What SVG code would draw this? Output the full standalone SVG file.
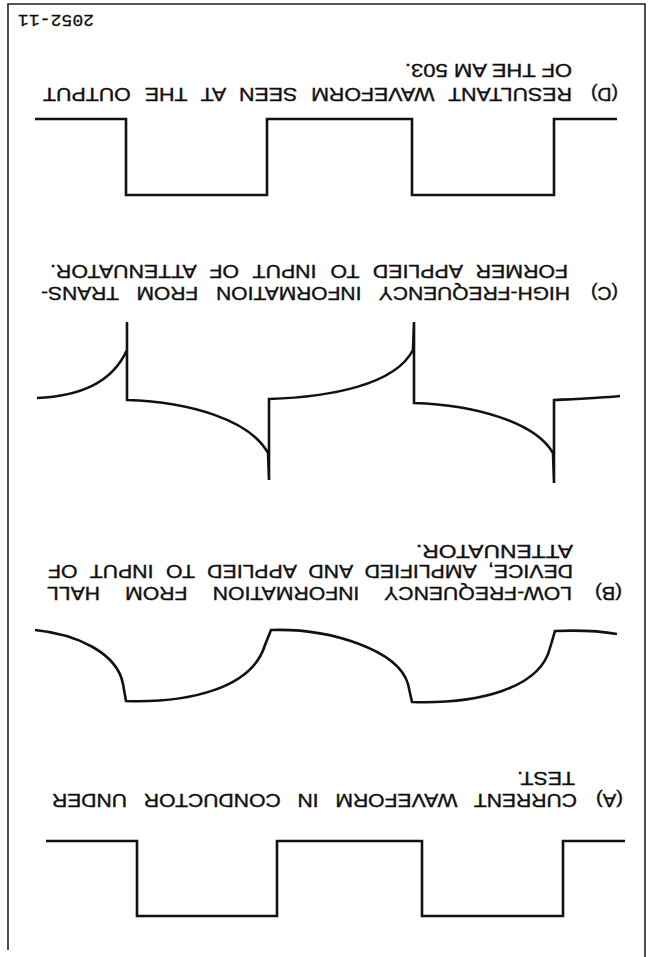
<svg xmlns="http://www.w3.org/2000/svg" width="649" height="957" viewBox="0 0 649 957">
<style>
.w{fill:none;stroke:#111;stroke-width:2.6;stroke-linejoin:miter}
.b{fill:none;stroke:#222;stroke-width:1.6}
.t{font-family:"Liberation Sans",Arial,sans-serif;font-size:17.5px;fill:#111;stroke:#111;stroke-width:0.35}
.n{font-family:"Liberation Mono",monospace;font-size:17px;fill:#111;stroke:#111;stroke-width:0.3}
</style>
<rect width="649" height="957" fill="#fff"/>
<g id="frame"><path class="b" d="M8,950 V4 H645 V957"/></g>
<g id="connectors">
<path id="waveD" class="w" d="M35,119 H126 V195 H267 V119 H412 V195 H554 V119 H617"/>
<path id="waveC" class="w" d="M37,398 C80,396 112,383 127,350 L127,322 L127,400 C190,402 250,420 268,453 L269,480 L269,399 C330,397 395,385 413,350 L414,322 L414,403 C475,405 535,422 553,453 L554,483 L554,400 C575,399 600,398 620,396"/>
<path id="waveB" class="w" d="M35,630 C75,634 117,652 123,684 L126,701 C190,703 252,688 265,645 L271,630 C330,628 398,650 408,684 L412,702 C480,704 540,688 550,648 L555,631 C580,630 600,631 617,634"/>
<path id="waveA" class="w" d="M46,841 H137 V916 H277 V841 H422 V916 H563 V841 H625"/>
</g>
<g transform="rotate(180 324.5 478.5)">
<g id="figno"><text class="n" x="555" y="942" textLength="76" lengthAdjust="spacingAndGlyphs">2052-11</text></g>
<g id="labelA">
<text class="t" x="26" y="163" textLength="27" lengthAdjust="spacingAndGlyphs">(A)</text>
<text class="t" x="72" y="163" textLength="525" lengthAdjust="spacingAndGlyphs" style="word-spacing:9px">CURRENT WAVEFORM IN CONDUCTOR UNDER</text>
<text class="t" x="74" y="185" textLength="58" lengthAdjust="spacingAndGlyphs">TEST.</text>
</g>
<g id="labelB">
<text class="t" x="27" y="370" textLength="27" lengthAdjust="spacingAndGlyphs">(B)</text>
<text class="t" x="77" y="370" textLength="525" lengthAdjust="spacingAndGlyphs" style="word-spacing:16px">LOW-FREQUENCY INFORMATION FROM HALL</text>
<text class="t" x="76" y="392" textLength="525" lengthAdjust="spacingAndGlyphs" style="word-spacing:5.5px">DEVICE, AMPLIFIED AND APPLIED TO INPUT OF</text>
<text class="t" x="76" y="412" textLength="157" lengthAdjust="spacingAndGlyphs">ATTENUATOR.</text>
</g>
<g id="labelC">
<text class="t" x="31" y="670" textLength="27" lengthAdjust="spacingAndGlyphs">(C)</text>
<text class="t" x="79" y="670" textLength="529" lengthAdjust="spacingAndGlyphs" style="word-spacing:10px">HIGH-FREQUENCY INFORMATION FROM TRANS-</text>
<text class="t" x="81" y="692" textLength="518" lengthAdjust="spacingAndGlyphs" style="word-spacing:6.5px">FORMER APPLIED TO INPUT OF ATTENUATOR.</text>
</g>
<g id="labelD">
<text class="t" x="31" y="869" textLength="27" lengthAdjust="spacingAndGlyphs">(D)</text>
<text class="t" x="77" y="869" textLength="529" lengthAdjust="spacingAndGlyphs" style="word-spacing:6.5px">RESULTANT WAVEFORM SEEN AT THE OUTPUT</text>
<text class="t" x="77" y="893" textLength="167" lengthAdjust="spacingAndGlyphs">OF THE AM 503.</text>
</g>
</g>
</svg>
